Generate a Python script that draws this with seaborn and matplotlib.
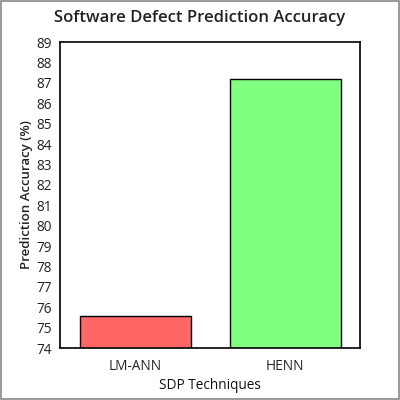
import matplotlib
matplotlib.use("Agg")
import matplotlib.pyplot as plt
import pandas as pd
import seaborn as sns
from matplotlib.patches import Rectangle

techniques = ["LM-ANN", "HENN"]
accuracy = [75.55, 87.2]
bar_colors = ["#ff6666", "#80ff80"]

sns.set_theme(style="white")
plt.rcParams["font.family"] = ["Open Sans", "DejaVu Sans"]

df = pd.DataFrame({"technique": techniques, "accuracy": accuracy})

fig = plt.figure(figsize=(4, 4), dpi=100)
ax = fig.add_axes([0.15, 0.13, 0.75, 0.765])

sns.barplot(data=df, x="technique", y="accuracy", hue="technique",
            palette=bar_colors, legend=False, width=0.74,
            edgecolor="black", linewidth=1, ax=ax, saturation=1)

ax.set_ylim(74, 89)
ax.set_yticks(range(74, 90))
ax.set_xlim(-0.5, 1.5)
ax.tick_params(axis="both", length=0, labelsize=9.8, colors="#222222")
ax.tick_params(axis="x", pad=8)
ax.tick_params(axis="y", pad=6)
for s in ax.spines.values():
    s.set_color("black")
    s.set_linewidth(1.2)

ax.set_xlabel("SDP Techniques", fontsize=9.8, color="#111111", labelpad=3)
ax.set_ylabel("Prediction Accuracy (%)", fontsize=9.5, color="#222222",
              fontweight="semibold", labelpad=2)
fig.text(0.5, 0.955, "Software Defect Prediction Accuracy", ha="center",
         va="center", fontsize=12, fontweight="semibold", color="#222222")

fig.patches.append(Rectangle((0.002, 0.002), 0.996, 0.996, transform=fig.transFigure,
                             fill=False, edgecolor="#888888", linewidth=1.2))

fig.savefig("out.png", dpi=100, facecolor="white")
